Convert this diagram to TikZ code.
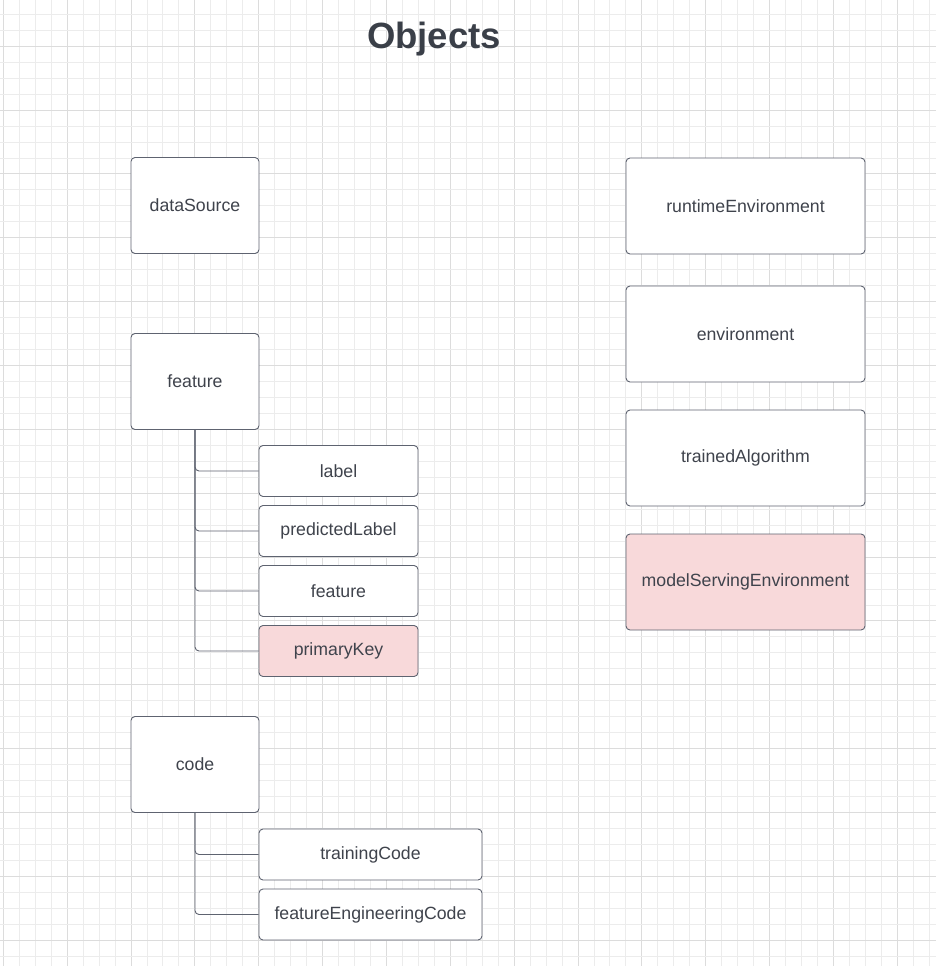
\documentclass[tikz,border=0pt]{standalone}
\usepackage{fontspec}
\setmainfont{Liberation Sans}
\definecolor{gridminor}{HTML}{ECECEC}
\definecolor{gridmajor}{HTML}{DCDCDC}
\definecolor{boxline}{HTML}{5E6370}
\definecolor{txt}{HTML}{3F434C}
\definecolor{pinkfill}{HTML}{F8D9DA}
\definecolor{titlecol}{HTML}{3A3F48}
\tikzset{
  objbox/.style={draw=boxline, line width=0.9pt, fill=white, rounded corners=4pt,
    inner sep=0pt, text=txt, font=\fontsize{17.7}{20}\selectfont},
  bigbox/.style={objbox, minimum width=128pt, minimum height=96pt},
  rightbox/.style={objbox, minimum width=239pt, minimum height=96pt},
  subbox/.style={objbox, minimum width=159pt, minimum height=51pt},
  widebox/.style={objbox, minimum width=223pt, minimum height=51pt},
  hl/.style={fill=pinkfill},
  conn/.style={draw=boxline, line width=0.9pt, rounded corners=4pt}
}
\begin{document}
\begin{tikzpicture}[x=1pt,y=-1pt]
\useasboundingbox (0,0) rectangle (936,966);
\fill[white] (0,0) rectangle (936,966);
% grid
\foreach \k in {0,...,59} {
  \pgfmathsetmacro{\xx}{3.3+15.964*\k}
  \pgfmathtruncatemacro{\m}{mod(\k,4)}
  \ifnum\m=0
    \draw[gridmajor, line width=0.9pt] (\xx,0) -- (\xx,966);
  \else
    \draw[gridminor, line width=0.9pt] (\xx,0) -- (\xx,966);
  \fi
}
\foreach \k in {0,...,61} {
  \pgfmathsetmacro{\yy}{14.3+15.964*\k}
  \pgfmathtruncatemacro{\m}{mod(\k+2,4)}
  \ifnum\m=0
    \draw[gridmajor, line width=0.9pt] (0,\yy) -- (936,\yy);
  \else
    \draw[gridminor, line width=0.9pt] (0,\yy) -- (936,\yy);
  \fi
}
% title
\node[text=titlecol, font=\fontsize{36.5}{40}\selectfont\bfseries] (title) at (434,39.5) {Objects};
% left column
\node[bigbox] (ds) at (195,205.5) {dataSource};
\node[bigbox] (feat) at (195,381.5) {feature};
\node[subbox] (lab) at (338.5,471) {label};
\node[subbox] (pred) at (338.5,531) {predictedLabel};
\node[subbox] (feat2) at (338.5,591) {feature};
\node[subbox, hl] (pk) at (338.5,651) {primaryKey};
\node[bigbox] (code) at (195,764.5) {code};
\node[widebox] (train) at (370.5,854.5) {trainingCode};
\node[widebox] (fec) at (370.5,914.5) {featureEngineeringCode};
% right column
\node[rightbox] (rt) at (745.5,206) {runtimeEnvironment};
\node[rightbox] (env) at (745.5,334) {environment};
\node[rightbox] (ta) at (745.5,458) {trainedAlgorithm};
\node[rightbox, hl] (mse) at (745.5,582) {modelServingEnvironment};
% connectors
\draw[conn] (feat.south) |- (lab.west);
\draw[conn] (feat.south) |- (pred.west);
\draw[conn] (feat.south) |- (feat2.west);
\draw[conn] (feat.south) |- (pk.west);
\draw[conn] (code.south) |- (train.west);
\draw[conn] (code.south) |- (fec.west);
\end{tikzpicture}
\end{document}
